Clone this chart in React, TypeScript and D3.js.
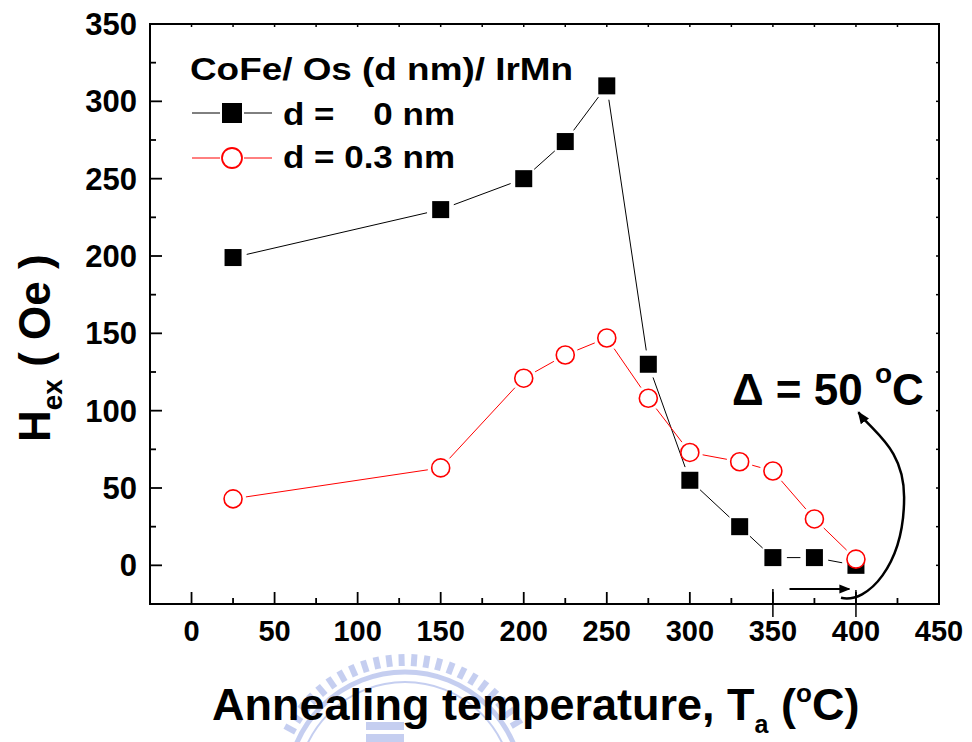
import React from "react";
import * as d3 from "d3";

const temps0 = [25, 150, 200, 225, 250, 275, 300, 330, 350, 375, 400];
const hex0 = [199, 230, 250, 274, 310, 130, 55, 25, 5, 5, 0];
const temps03 = [25, 150, 200, 225, 250, 275, 300, 330, 350, 375, 400];
const hex03 = [43, 63, 121, 136, 147, 108, 73, 67, 61, 30, 4];
const xTicks = [0, 50, 100, 150, 200, 250, 300, 350, 400, 450];
const yTicks = [0, 50, 100, 150, 200, 250, 300, 350];
const legendTitle = "CoFe/ Os (d nm)/ IrMn";
const legendLabels = ["d =    0 nm", "d = 0.3 nm"];

const W = 972;
const H = 742;
const L = 150, R = 939, T = 24, B = 604;
const FONT = "'Liberation Sans', Arial, Helvetica, sans-serif";

function gappedSegments(pts: [number, number][], gap: number) {
  const segs: [number, number, number, number][] = [];
  for (let i = 0; i < pts.length - 1; i++) {
    const [x1, y1] = pts[i];
    const [x2, y2] = pts[i + 1];
    const dx = x2 - x1, dy = y2 - y1;
    const len = Math.hypot(dx, dy);
    if (len <= 2 * gap + 1) continue;
    const ux = dx / len, uy = dy / len;
    segs.push([x1 + ux * gap, y1 + uy * gap, x2 - ux * gap, y2 - uy * gap]);
  }
  return segs;
}

export default function App() {
  const x = d3.scaleLinear().domain([-25, 450]).range([L, R]);
  const y = d3.scaleLinear().domain([-25, 350]).range([B, T]);

  const pts0: [number, number][] = temps0.map((t, i) => [x(t), y(hex0[i])]);
  const pts03: [number, number][] = temps03.map((t, i) => [x(t), y(hex03[i])]);
  const segs0 = gappedSegments(pts0, 14);
  const segs03 = gappedSegments(pts03, 13);

  const minorX = d3.range(-25, 451, 25);
  const minorY = d3.range(-25, 351, 25);
  const sq = 17;

  // annotation curved arrow
  const curve = d3.path();
  curve.moveTo(x(391), y(-21));
  curve.bezierCurveTo(x(407), y(-25), x(429), y(0), x(429), y(44));
  curve.bezierCurveTo(x(429), y(76), x(410), y(86), x(401.5), y(99));

  const wcx = 405, wcy = 790;

  return (
    <svg width={W} height={H} style={{ position: "absolute", left: 0, top: 0, background: "#fff" }}
      fontFamily={FONT} fontWeight="bold">
      <defs>
        <marker id="ah" viewBox="0 0 10 10" refX="9" refY="5" markerWidth="5" markerHeight="5" orient="auto">
          <path d="M0,1 L10,5 L0,9 z" fill="#000" />
        </marker>
      </defs>

      {/* watermark */}
      <g opacity={0.45} fill="#7f95e0">
        {d3.range(-152, -26, 5.5).map((a, i) => {
          const rad = (a * Math.PI) / 180;
          const r1 = 124, r2 = 136;
          return (
            <line key={i} x1={wcx + r1 * Math.cos(rad)} y1={wcy + r1 * Math.sin(rad)}
              x2={wcx + r2 * Math.cos(rad)} y2={wcy + r2 * Math.sin(rad)} stroke="#7f95e0" strokeWidth={6} />
          );
        })}
        <circle cx={wcx} cy={wcy} r={118} fill="none" stroke="#7f95e0" strokeWidth={5} />
        <circle cx={wcx} cy={wcy} r={108} fill="none" stroke="#7f95e0" strokeWidth={2} />
        <rect x={366} y={722} width={38} height={8} />
        <rect x={366} y={734} width={38} height={8} />
      </g>

      {/* frame */}
      <rect x={L} y={T} width={R - L} height={B - T} fill="none" stroke="#000" strokeWidth={2} />

      {/* bottom ticks */}
      {minorX.map((v) => {
        const major = v % 50 === 0;
        return <line key={"bx" + v} x1={x(v)} x2={x(v)} y1={B} y2={B - (major ? 12 : 6)} stroke="#000" strokeWidth={1.8} />;
      })}
      {/* top ticks */}
      {minorX.map((v) => (
        <line key={"tx" + v} x1={x(v)} x2={x(v)} y1={T} y2={T + 3} stroke="#000" strokeWidth={1.5} />
      ))}
      {/* left ticks */}
      {minorY.map((v) => {
        const major = v % 50 === 0;
        return <line key={"ly" + v} x1={L} x2={L + (major ? 12 : 6)} y1={y(v)} y2={y(v)} stroke="#000" strokeWidth={1.8} />;
      })}
      {/* right ticks */}
      {minorY.map((v) => (
        <line key={"ry" + v} x1={R} x2={R - 3} y1={y(v)} y2={y(v)} stroke="#000" strokeWidth={1.5} />
      ))}

      {/* tick labels */}
      {xTicks.map((v) => (
        <text key={"xl" + v} x={x(v)} y={641} textAnchor="middle" fontSize={29}>{v}</text>
      ))}
      {yTicks.map((v) => (
        <text key={"yl" + v} x={137} y={y(v)} dy="0.36em" textAnchor="end" fontSize={31}>{v}</text>
      ))}

      {/* axis titles */}
      <text x={212} y={720} fontSize={45}>
        Annealing temperature, T<tspan fontSize={25} dy={13}>a</tspan>
        <tspan dy={-13}> (</tspan><tspan fontSize={26} dy={-18}>o</tspan><tspan dy={18}>C)</tspan>
      </text>
      <text transform="translate(50,442) rotate(-90)" fontSize={44}>
        H<tspan fontSize={28} dy={12}>ex</tspan><tspan dy={-12}> ( Oe )</tspan>
      </text>

      {/* series d=0 */}
      <g stroke="#000" strokeWidth={1}>
        {segs0.map((s, i) => <line key={"s0" + i} x1={s[0]} y1={s[1]} x2={s[2]} y2={s[3]} />)}
      </g>
      {pts0.map(([px, py], i) => (
        <rect key={"m0" + i} x={px - sq / 2} y={py - sq / 2} width={sq} height={sq} fill="#000" />
      ))}
      {/* series d=0.3 */}
      <g stroke="#ff0000" strokeWidth={1}>
        {segs03.map((s, i) => <line key={"s3" + i} x1={s[0]} y1={s[1]} x2={s[2]} y2={s[3]} />)}
      </g>
      {pts03.map(([px, py], i) => (
        <circle key={"m3" + i} cx={px} cy={py} r={9} fill="#fff" stroke="#ff0000" strokeWidth={1.6} />
      ))}

      {/* legend */}
      <text x={190} y={80} fontSize={32} textLength={383} lengthAdjust="spacingAndGlyphs">{legendTitle}</text>
      <g>
        <line x1={192} x2={220} y1={113} y2={113} stroke="#000" strokeWidth={1} />
        <line x1={244} x2={272} y1={113} y2={113} stroke="#000" strokeWidth={1} />
        <rect x={232 - 10} y={113 - 10} width={20} height={20} fill="#000" />
        <text x={283} y={125} fontSize={31} textLength={172} lengthAdjust="spacingAndGlyphs"
          style={{ whiteSpace: "pre" }}>{legendLabels[0]}</text>
        <line x1={192} x2={220} y1={158} y2={158} stroke="#ff0000" strokeWidth={1} />
        <line x1={244} x2={272} y1={158} y2={158} stroke="#ff0000" strokeWidth={1} />
        <circle cx={232} cy={158} r={10} fill="#fff" stroke="#ff0000" strokeWidth={1.8} />
        <text x={283} y={168} fontSize={31} textLength={172} lengthAdjust="spacingAndGlyphs">{legendLabels[1]}</text>
      </g>

      {/* annotation */}
      <text x={732} y={405} fontSize={44}>
        Δ = 50 <tspan fontSize={28} dy={-22}>o</tspan><tspan dy={22}>C</tspan>
      </text>
      <line x1={x(360)} x2={x(396)} y1={589} y2={589} stroke="#000" strokeWidth={2.2} markerEnd="url(#ah)" />
      <path d={curve.toString()} fill="none" stroke="#000" strokeWidth={2.5} markerEnd="url(#ah)" />
      <line x1={x(350)} x2={x(350)} y1={589} y2={617} stroke="#000" strokeWidth={1.5} />
      <line x1={x(400)} x2={x(400)} y1={590} y2={617} stroke="#000" strokeWidth={1.5} />
    </svg>
  );
}
